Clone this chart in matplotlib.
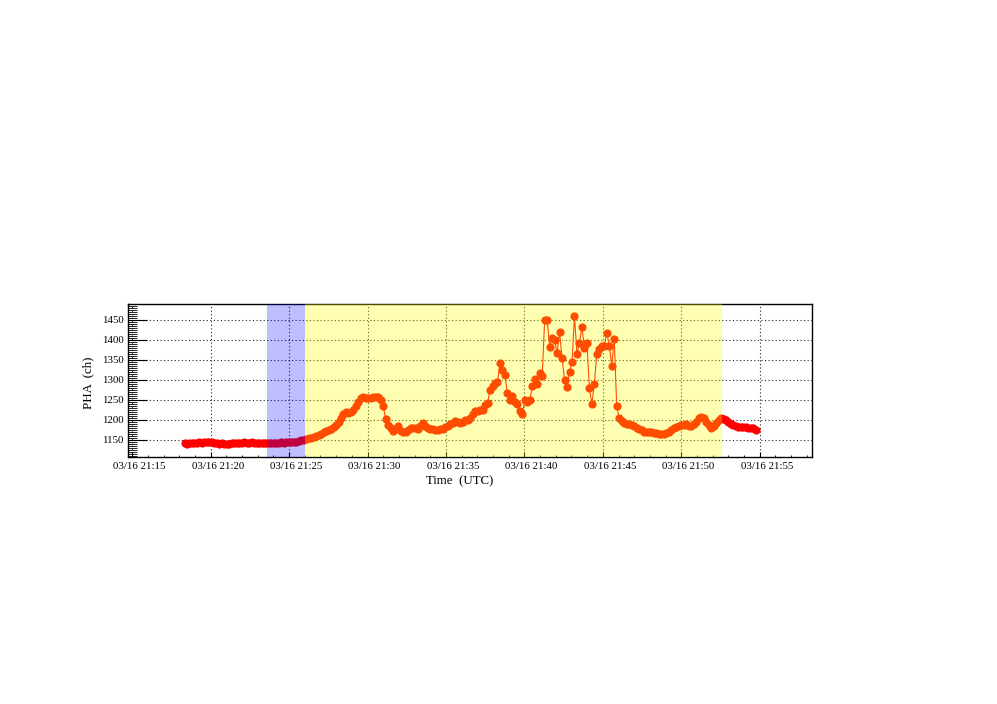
import numpy as np
import pandas as pd
import matplotlib
matplotlib.use('Agg')
import matplotlib.pyplot as plt
import matplotlib.dates as mdates
from matplotlib.ticker import MultipleLocator
from matplotlib.transforms import ScaledTranslation

# PHA samples, one every 9.5 s starting 21:18:20 UTC
t_start = '2024-03-16 21:18:20'
pha = [
    1141, 1140, 1141, 1142, 1141, 1142, 1143, 1142, 1143, 1144,
    1145, 1143, 1142, 1141, 1140, 1141, 1139, 1140, 1140, 1141,
    1141, 1142, 1141, 1142, 1143, 1142, 1142, 1143, 1142, 1141,
    1142, 1142, 1141, 1142, 1142, 1141, 1141, 1142, 1142, 1143,
    1142, 1143, 1143, 1144, 1144, 1145, 1147, 1148, 1150, 1151,
    1153, 1155, 1157, 1160, 1162, 1165, 1168, 1171, 1174, 1177,
    1181, 1187, 1195, 1205, 1214, 1218, 1217, 1219, 1224, 1234,
    1245, 1254, 1256, 1255, 1255, 1254, 1256, 1257, 1256, 1250,
    1233, 1201, 1187, 1178, 1172, 1176, 1185, 1171, 1168, 1168,
    1175, 1178, 1178, 1178, 1177, 1184, 1191, 1183, 1179, 1177,
    1176, 1174, 1174, 1176, 1177, 1182, 1185, 1189, 1191, 1196,
    1195, 1192, 1194, 1198, 1200, 1203, 1214, 1221, 1222, 1223,
    1225, 1236, 1241, 1274, 1285, 1291, 1293, 1341, 1325, 1311,
    1266, 1248, 1258, 1245, 1239, 1222, 1214, 1250, 1243, 1250,
    1283, 1302, 1289, 1317, 1308, 1450, 1450, 1382, 1404, 1398,
    1367, 1419, 1354, 1298, 1281, 1318, 1344, 1458, 1365, 1392,
    1431, 1379, 1392, 1279, 1240, 1290, 1365, 1377, 1383, 1385,
    1417, 1385, 1335, 1402, 1234, 1204, 1197, 1192, 1188, 1189,
    1187, 1183, 1179, 1176, 1173, 1170, 1168, 1168, 1168, 1167,
    1167, 1165, 1164, 1165, 1167, 1170, 1174, 1178, 1182, 1184,
    1186, 1187, 1188, 1185, 1184, 1189, 1193, 1204, 1206, 1203,
    1194, 1186, 1180, 1184, 1192, 1200, 1205, 1202, 1199, 1195,
    1190, 1186, 1183, 1182, 1182, 1182, 1181, 1180, 1180, 1178,
    1175,
]
times = pd.date_range(t_start, periods=len(pha), freq='9500ms')

blue_span = ('2024-03-16 21:23:35', '2024-03-16 21:26:00')
yellow_span = ('2024-03-16 21:26:00', '2024-03-16 21:52:35')
x_range = ('2024-03-16 21:14:42', '2024-03-16 21:58:18')
y_range = (1107.5, 1489)

plt.rcParams['font.family'] = ['Liberation Serif', 'DejaVu Serif']

fig = plt.figure(figsize=(9.97, 7.04), dpi=100)
ax = fig.add_axes([127.5/997, 1 - 456.7/704, 684/997, 152.7/704])

ax.plot(times, pha, '-o', color='red', ms=4.9, lw=0.8, zorder=2)
ax.axvspan(pd.Timestamp(blue_span[0]), pd.Timestamp(blue_span[1]),
           color=(0, 0, 1), alpha=0.25, lw=0, zorder=3)
ax.axvspan(pd.Timestamp(yellow_span[0]), pd.Timestamp(yellow_span[1]),
           color=(1, 1, 0), alpha=0.3, lw=0, zorder=3)

ax.set_xlim(pd.Timestamp(x_range[0]), pd.Timestamp(x_range[1]))
ax.set_ylim(*y_range)

ax.xaxis.set_major_locator(mdates.MinuteLocator(byminute=range(0, 60, 5)))
ax.xaxis.set_minor_locator(mdates.MinuteLocator())
ax.xaxis.set_major_formatter(mdates.DateFormatter('%m/%d %H:%M'))
ax.yaxis.set_major_locator(MultipleLocator(50))
ax.yaxis.set_minor_locator(MultipleLocator(5))

ax.tick_params(axis='y', which='major', direction='in', length=13.7, width=0.8,
               labelsize=7.8, pad=3, right=False)
ax.tick_params(axis='y', which='minor', direction='in', length=6.5, width=0.6, right=False)
ax.tick_params(axis='x', which='major', direction='in', length=3.3, width=0.8,
               labelsize=7.8, pad=4, top=False)
ax.tick_params(axis='x', which='minor', direction='in', length=1.7, width=0.6, top=False)

ax.grid(True, which='major', color='#222222', linestyle=(0, (1, 2.2)), lw=0.8)
for s in ax.spines.values():
    s.set_linewidth(1.0)

fig.canvas.draw()
shift = ScaledTranslation(7/100, 0, fig.dpi_scale_trans)
for tk in ax.xaxis.get_major_ticks():
    tk.label1.set_transform(tk.label1.get_transform() + shift)

fig.text(88.3/997, 1 - 383/704, 'PHA  (ch)', rotation=90, ha='center', va='center', fontsize=9.3)
fig.text(460/997, 1 - 481/704, 'Time  (UTC)', ha='center', va='center', fontsize=9.3)

fig.savefig('out.png', dpi=100)
